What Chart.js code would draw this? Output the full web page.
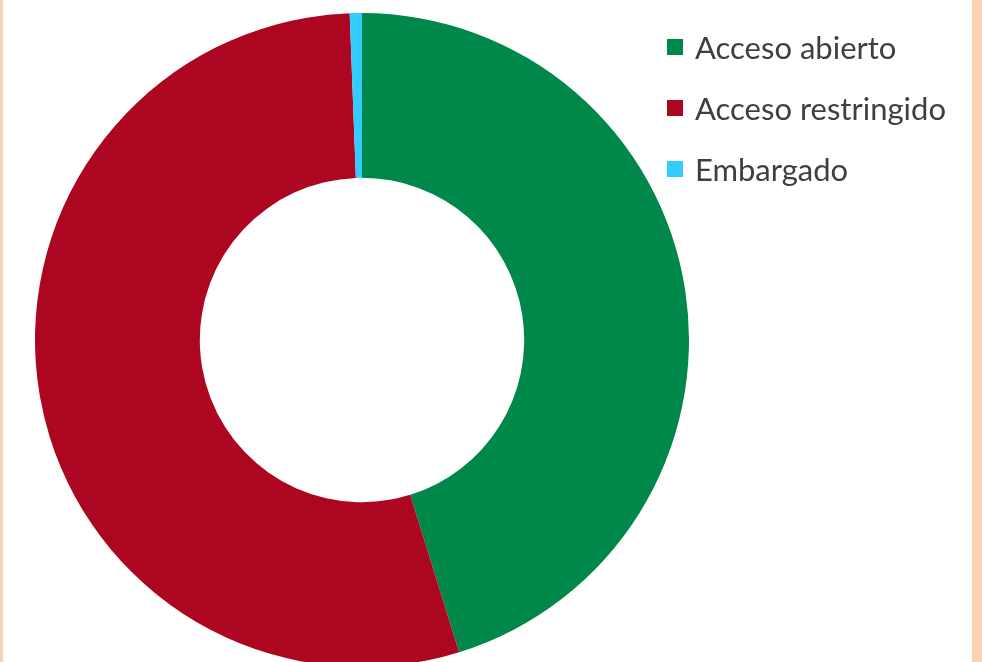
<!DOCTYPE html>
<html lang="es">
<head>
<meta charset="utf-8">
<title>Acceso</title>
<script src="https://cdn.jsdelivr.net/npm/chart.js@4/dist/chart.umd.min.js"></script>
<style>
  html, body { margin: 0; padding: 0; }
  body {
    width: 982px; height: 662px; overflow: hidden; position: relative;
    background: #fff;
  }
  .frame-l { position: absolute; left: 0; top: 0; width: 3px; height: 662px; background: #f9d3b2; }
  .frame-r { position: absolute; left: 972px; top: 0; width: 10px; height: 662px; background: #f9d3b2; }
  #wrap { position: absolute; left: 35px; top: 13px; width: 654px; height: 654px; }
  #legend { position: absolute; left: 667px; top: 16px; font-family: Lato, sans-serif; font-size: 31px; color: #3f3f3f; }
  #legend .row { height: 61px; display: flex; align-items: center; }
  #legend .box { width: 16px; height: 16px; margin-right: 12px; }
</style>
</head>
<body>
<div class="frame-l"></div>
<div class="frame-r"></div>
<div id="wrap"><canvas id="myChart" width="654" height="654"></canvas></div>
<div id="legend"></div>
<script>
// share of records by access type (%)
const labels = ["Acceso abierto", "Acceso restringido", "Embargado"];
const values = [45.2, 54.2, 0.6];
const colors = ["#00884a", "#ad0620", "#33ccff"];

const ctx = document.getElementById("myChart");

const chart = new Chart(ctx, {
  type: "doughnut",
  data: {
    labels: labels,
    datasets: [
      {
        data: values,
        backgroundColor: colors,
        borderWidth: 0,
      },
    ],
  },
  options: {
    responsive: false,
    animation: false,
    cutout: "49.6%",
    layout: { padding: 0 },
    plugins: {
      legend: { display: false },
      tooltip: { enabled: false },
    },
  },
});

// legend drawn next to the chart, from the same labels/colors
const legend = document.getElementById("legend");
chart.data.labels.forEach((label, i) => {
  const row = document.createElement("div");
  row.className = "row";
  const box = document.createElement("span");
  box.className = "box";
  box.style.background = colors[i];
  row.appendChild(box);
  row.appendChild(document.createTextNode(label));
  legend.appendChild(row);
});
</script>
</body>
</html>
